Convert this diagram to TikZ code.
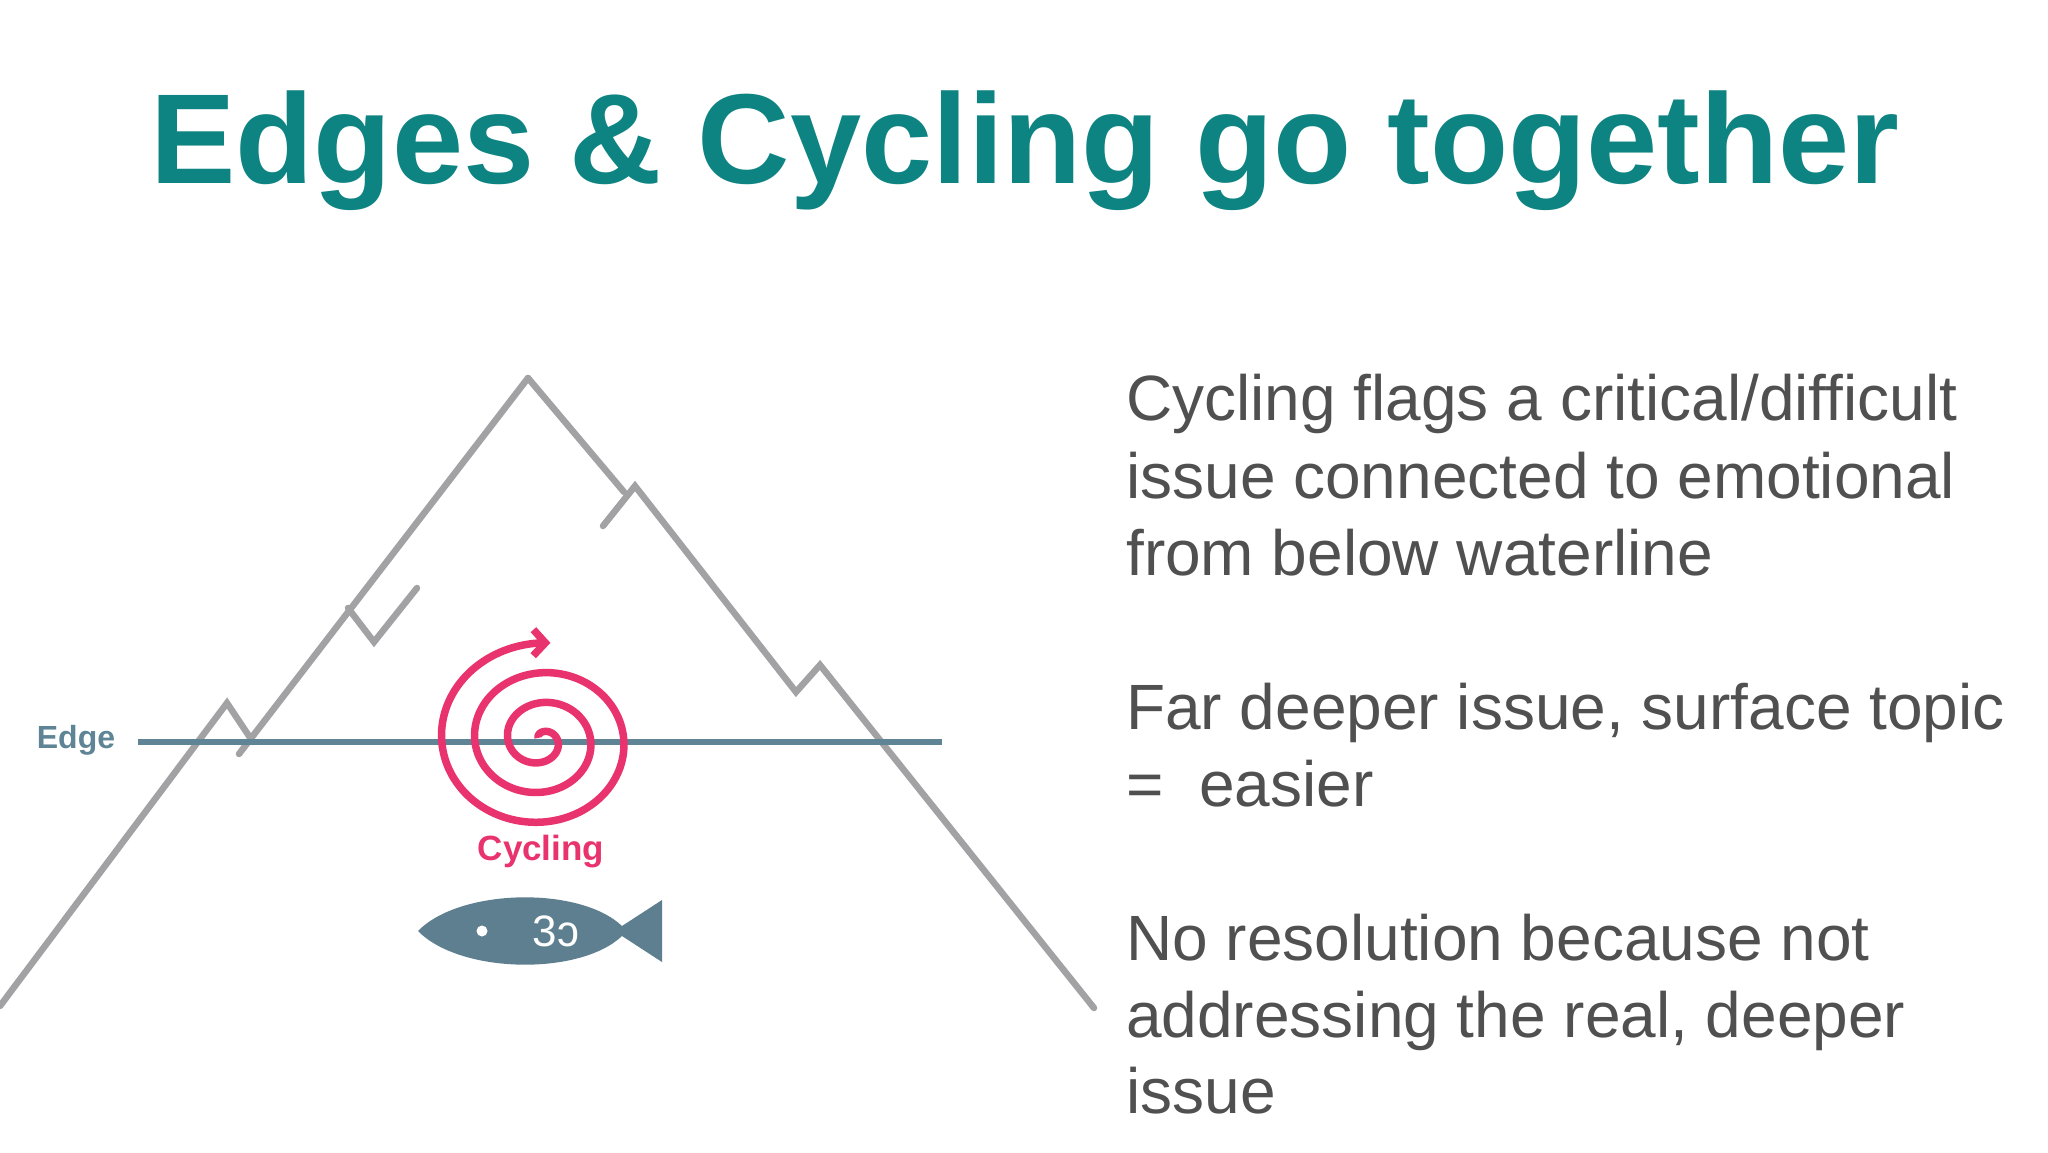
\documentclass[tikz,border=0pt]{standalone}
\usepackage{fontspec}
\setmainfont{Liberation Sans}
\usetikzlibrary{arrows.meta}
\definecolor{teal1}{HTML}{0E8482}
\definecolor{txt}{HTML}{505050}
\definecolor{mgray}{HTML}{A2A2A4}
\definecolor{edgec}{HTML}{5F8496}
\definecolor{pinkc}{HTML}{E8336E}
\definecolor{fishc}{HTML}{5D7F90}
\begin{document}
\begin{tikzpicture}[x=1pt,y=-1pt,
  mline/.style={draw=mgray,line width=6.5pt,line cap=round,line join=miter},
  body/.style={font=\fontsize{64}{77}\selectfont,text=txt,anchor=base west,inner sep=0pt}]
\useasboundingbox[fill=white] (0,0) rectangle (2048,1153);
\node[font=\bfseries\fontsize{128}{130}\selectfont,text=teal1,anchor=base] (title) at (1025,183) {Edges \& Cycling go together};
% mountain
\coordinate (pk) at (528,378);
\draw[mline] (pk) -- (624,492);
\draw[mline] (603,526) -- (635,486) -- (796,692) -- (820,665) -- (1094,1008);
\draw[mline] (pk) -- (239,754);
\draw[mline] (348,608) -- (374,642) -- (417,588);
\draw[mline] (0,1006) -- (227,703) -- (253,742);
% edge
\node[font=\bfseries\fontsize{32}{34}\selectfont,text=edgec] (edgel) at (76,740) {Edge};
\coordinate (e1) at (138,742);
\coordinate (e2) at (942,742);
\draw[edgec,line width=6pt] (e1) -- (e2);
% spiral
\draw[pinkc,line width=7.5pt,-{Straight Barb[length=12pt,width=26pt]}] plot[smooth,samples=220,domain=40:1175,variable=\t]
  ({541-0.092*\t*cos(\t)},{740-0.083*\t*sin(\t)});
\node[font=\bfseries\fontsize{35}{38}\selectfont,text=pinkc] (cyc) at (541,852) {Cycling};
% fish
\fill[fishc] (418,931) .. controls (460,888) and (580,886) .. (622,926)
  -- (662,900) -- (662,962) -- (622,936) .. controls (580,976) and (460,974) .. (418,931) -- cycle;
\fill[white] (482,931) circle (5.5);
\node[font=\fontsize{44}{44}\selectfont,text=white] (gill) at (556,931) {3ↄ};
% text
\node[body] (t1) at (1126,420) {Cycling flags a critical/difficult};
\node[body] (t2) at (1126,498) {issue connected to emotional};
\node[body] (t3) at (1126,575) {from below waterline};
\node[body] (t4) at (1126,729) {Far deeper issue, surface topic};
\node[body] (t5) at (1126,806) {=\ \ easier};
\node[body] (t6) at (1126,960) {No resolution because not};
\node[body] (t7) at (1126,1037) {addressing the real, deeper};
\node[body] (t8) at (1126,1113) {issue};
\end{tikzpicture}
\end{document}
